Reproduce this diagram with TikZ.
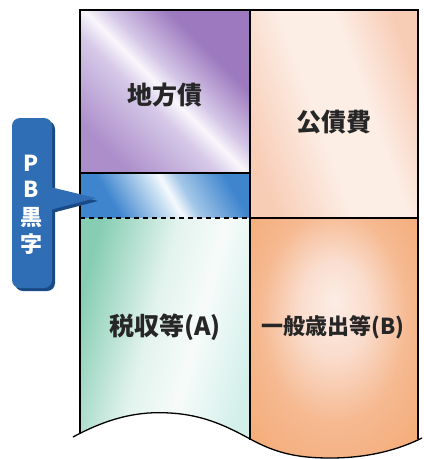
\documentclass[tikz,border=0pt]{standalone}
\usepackage{fontspec}
\newfontfamily\cjk{Noto Sans CJK JP}
\definecolor{pD}{HTML}{9D79BF}
\definecolor{pM}{HTML}{AC8ECA}
\definecolor{pL}{HTML}{D6C9E8}
\definecolor{bD}{HTML}{3F85CE}
\definecolor{bL}{HTML}{CFE4F4}
\definecolor{gD}{HTML}{86CDB3}
\definecolor{gL}{HTML}{E2F3EE}
\definecolor{gC}{HTML}{D2EFEA}
\definecolor{oP}{HTML}{F8CDB6}
\definecolor{oL}{HTML}{FCEDE5}
\definecolor{oD}{HTML}{F4AC78}
\definecolor{cb}{HTML}{2F6DB5}
\definecolor{cbs}{HTML}{1A4A85}
\pgfdeclarehorizontalshading{purpsh}{100bp}{color(0bp)=(pM); color(25bp)=(pM); color(44bp)=(pL); color(50bp)=(white!85!pL); color(55bp)=(pL); color(68bp)=(pD); color(100bp)=(pD)}
\pgfdeclarehorizontalshading{bluesh}{100bp}{color(0bp)=(bD); color(30bp)=(bD); color(48bp)=(bL); color(52bp)=(white!80!bL); color(58bp)=(bL!70!bD); color(75bp)=(bD); color(100bp)=(bD)}
\pgfdeclarehorizontalshading{greensh}{100bp}{color(0bp)=(gD); color(25bp)=(gD); color(45bp)=(gL); color(58bp)=(white!70!gL); color(75bp)=(gC); color(100bp)=(gC)}
\pgfdeclarehorizontalshading{peachsh}{100bp}{color(0bp)=(oP); color(25bp)=(oP); color(45bp)=(oL); color(60bp)=(oL); color(75bp)=(oP); color(100bp)=(oP)}
\pgfdeclareradialshading{orangesh}{\pgfpoint{0bp}{8bp}}{color(0bp)=(oL); color(10bp)=(oL!50!oP); color(22bp)=(oD!60!oP); color(35bp)=(oD); color(50bp)=(oD)}
\tikzset{
  frame/.style={line width=1.3pt, black},
  dashline/.style={line width=1.3pt, black, dash pattern=on 5pt off 4pt},
  label/.style={font=\cjk\bfseries\fontsize{25}{27}\selectfont, text=black!85, inner sep=0pt},
  labelsm/.style={font=\cjk\bfseries\fontsize{22}{24}\selectfont, text=black!85, inner sep=0pt},
  pblabel/.style={font=\cjk\bfseries\fontsize{22}{24}\selectfont, text=white, inner sep=0pt},
}
\begin{document}
\begin{tikzpicture}[x=1pt,y=-1pt]
\useasboundingbox (0,0) rectangle (424,459);
\fill[white] (0,0) rectangle (424,459);
% coloured panels, clipped by the wavy bottom
\begin{scope}
\clip (80,10) rectangle (418,459);
\clip (70,0) -- (430,0) -- (430,438) -- (422,438)
  .. controls (400,449) and (370,458) .. (330,458)
  .. controls (300,458) and (278,454) .. (252,440)
  .. controls (228,427) and (205,415) .. (170,413)
  .. controls (140,411) and (110,417) .. (73,437) -- (70,437) -- cycle;
\shade[shading=purpsh, shading angle=45] (80,10) rectangle (250,173);
\shade[shading=bluesh, shading angle=30] (80,173) rectangle (250,218);
\shade[shading=greensh, shading angle=-15] (80,218) rectangle (250,459);
\shade[shading=peachsh, shading angle=20] (250,10) rectangle (418,218);
\shade[shading=orangesh] (250,218) rectangle (418,459);
\end{scope}
% frame lines
\draw[frame] (80,434) -- (80,10) -- (418,10) -- (418,439);
\draw[frame] (250,10) -- (250,440);
\draw[frame] (80,173) -- (250,173);
\draw[frame] (250,218) -- (418,218);
\draw[dashline] (80,218) -- (250,218);
\draw[frame] (73,437)
  .. controls (110,417) and (140,411) .. (170,413)
  .. controls (205,415) and (228,427) .. (252,440)
  .. controls (278,454) and (300,458) .. (330,458)
  .. controls (370,458) and (400,449) .. (422,438);
% labels
\node[label] (chihousai) at (165,95) {地方債};
\node[label] (kousaihi) at (334,122) {公債費};
\node[label] (zeishu) at (165,327) {税収等(A)};
\node[labelsm] (ippan) at (333,327) {一般歳出等(B)};
% PB callout
\fill[cbs, rounded corners=8pt] (15,121) rectangle (55,291);
\fill[cbs] (52,190) -- (98,201) -- (52,213) -- cycle;
\fill[cb, rounded corners=8pt] (12,118) rectangle (52,288);
\fill[cb] (50,187) -- (96,198) -- (50,210) -- cycle;
\node[pblabel] (p) at (31,163) {P};
\node[pblabel] (b) at (31,189) {B};
\node[pblabel] (koku) at (31,218) {黒};
\node[pblabel] (ji) at (31,244) {字};
\end{tikzpicture}
\end{document}
